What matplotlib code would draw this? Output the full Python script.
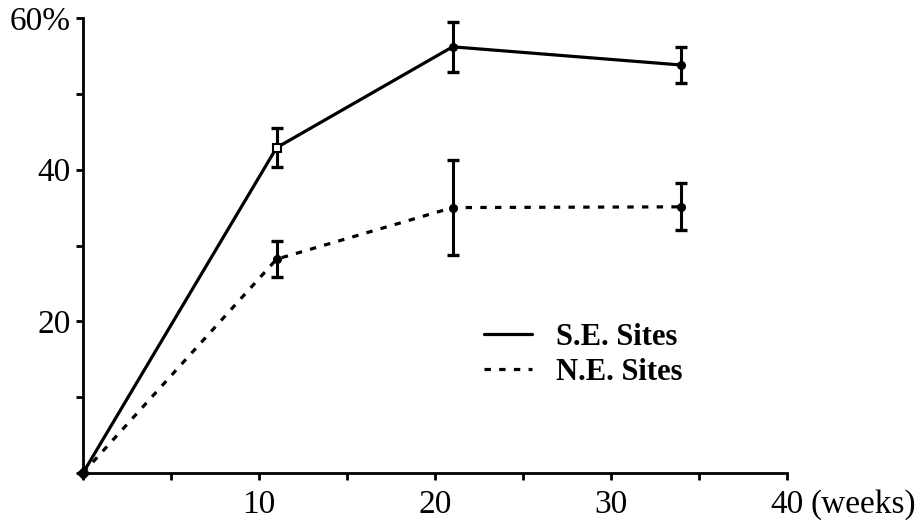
import matplotlib
matplotlib.use("Agg")
import matplotlib.pyplot as plt

# weeks after start
se_weeks = [0, 11, 21, 34]
se_pct = [0, 42.9, 56.2, 53.8]
se_err = [0, 2.6, 3.3, 2.4]

ne_weeks = [0, 11, 21, 34]
ne_pct = [0, 28.2, 35.0, 35.1]
ne_err = [0, 2.4, 6.3, 3.1]

x_ticks = [0, 5, 10, 15, 20, 25, 30, 35, 40]
x_labels = ["", "", "10", "", "20", "", "30", "", "40"]
y_ticks = [0, 10, 20, 30, 40, 50, 60]
y_labels = ["", "", "20", "", "40", "", "60%"]

plt.rcParams["font.family"] = ["Liberation Serif", "DejaVu Serif"]

fig = plt.figure(figsize=(9.2, 5.29), dpi=100)
ax = fig.add_axes([83 / 920, 1 - 473 / 529, (787 - 83) / 920, (473 - 18) / 529])

# S.E. sites: solid line, open square at week 11
ax.plot(se_weeks, se_pct, color="black", linewidth=2.3, solid_capstyle="round",
        clip_on=False, zorder=3, label="S.E. Sites")
ax.errorbar(se_weeks[1:], se_pct[1:], yerr=se_err[1:], fmt="none", ecolor="black",
            elinewidth=2.2, capsize=4, capthick=2.4, clip_on=False, zorder=4)
ax.plot(se_weeks[2:], se_pct[2:], "o", color="black", markersize=5.5, zorder=5)
ax.plot(se_weeks[1:2], se_pct[1:2], "s", mfc="white", mec="black", mew=1.5,
        markersize=6, zorder=5)

# N.E. sites: dashed line
ax.plot(ne_weeks, ne_pct, color="black", linewidth=2.3, linestyle=(0, (2.0, 2.6)),
        clip_on=False, zorder=3, label="N.E. Sites")
ax.errorbar(ne_weeks[1:], ne_pct[1:], yerr=ne_err[1:], fmt="none", ecolor="black",
            elinewidth=2.2, capsize=4, capthick=2.4, clip_on=False, zorder=4)
ax.plot(ne_weeks[1:], ne_pct[1:], "o", color="black", markersize=5.5, zorder=5)

# origin marker
ax.plot([0], [0], "D", color="black", markersize=6, clip_on=False, zorder=6)

ax.set_xlim(0, 40)
ax.set_ylim(0, 60)
ax.set_xticks(x_ticks)
ax.set_xticklabels(x_labels)
ax.set_yticks(y_ticks)
ax.set_yticklabels(y_labels)
ax.tick_params(axis="both", direction="out", length=5, width=2.0, labelsize=24,
               pad=4)
ax.tick_params(axis="x", pad=7)
for s in ["top", "right"]:
    ax.spines[s].set_visible(False)
for s in ["left", "bottom"]:
    ax.spines[s].set_linewidth(2.0)

ax.annotate("(weeks)", xy=(40, 0), xycoords="data", xytext=(17, -12),
            textcoords="offset points", fontsize=24, ha="left", va="top",
            annotation_clip=False)

leg = ax.legend(loc="upper left", bbox_to_anchor=(0.531, 0.39), frameon=False,
                handlelength=1.55, handletextpad=0.8, labelspacing=0.2,
                prop={"weight": "bold", "size": 22})

fig.savefig("out.png", dpi=100)
